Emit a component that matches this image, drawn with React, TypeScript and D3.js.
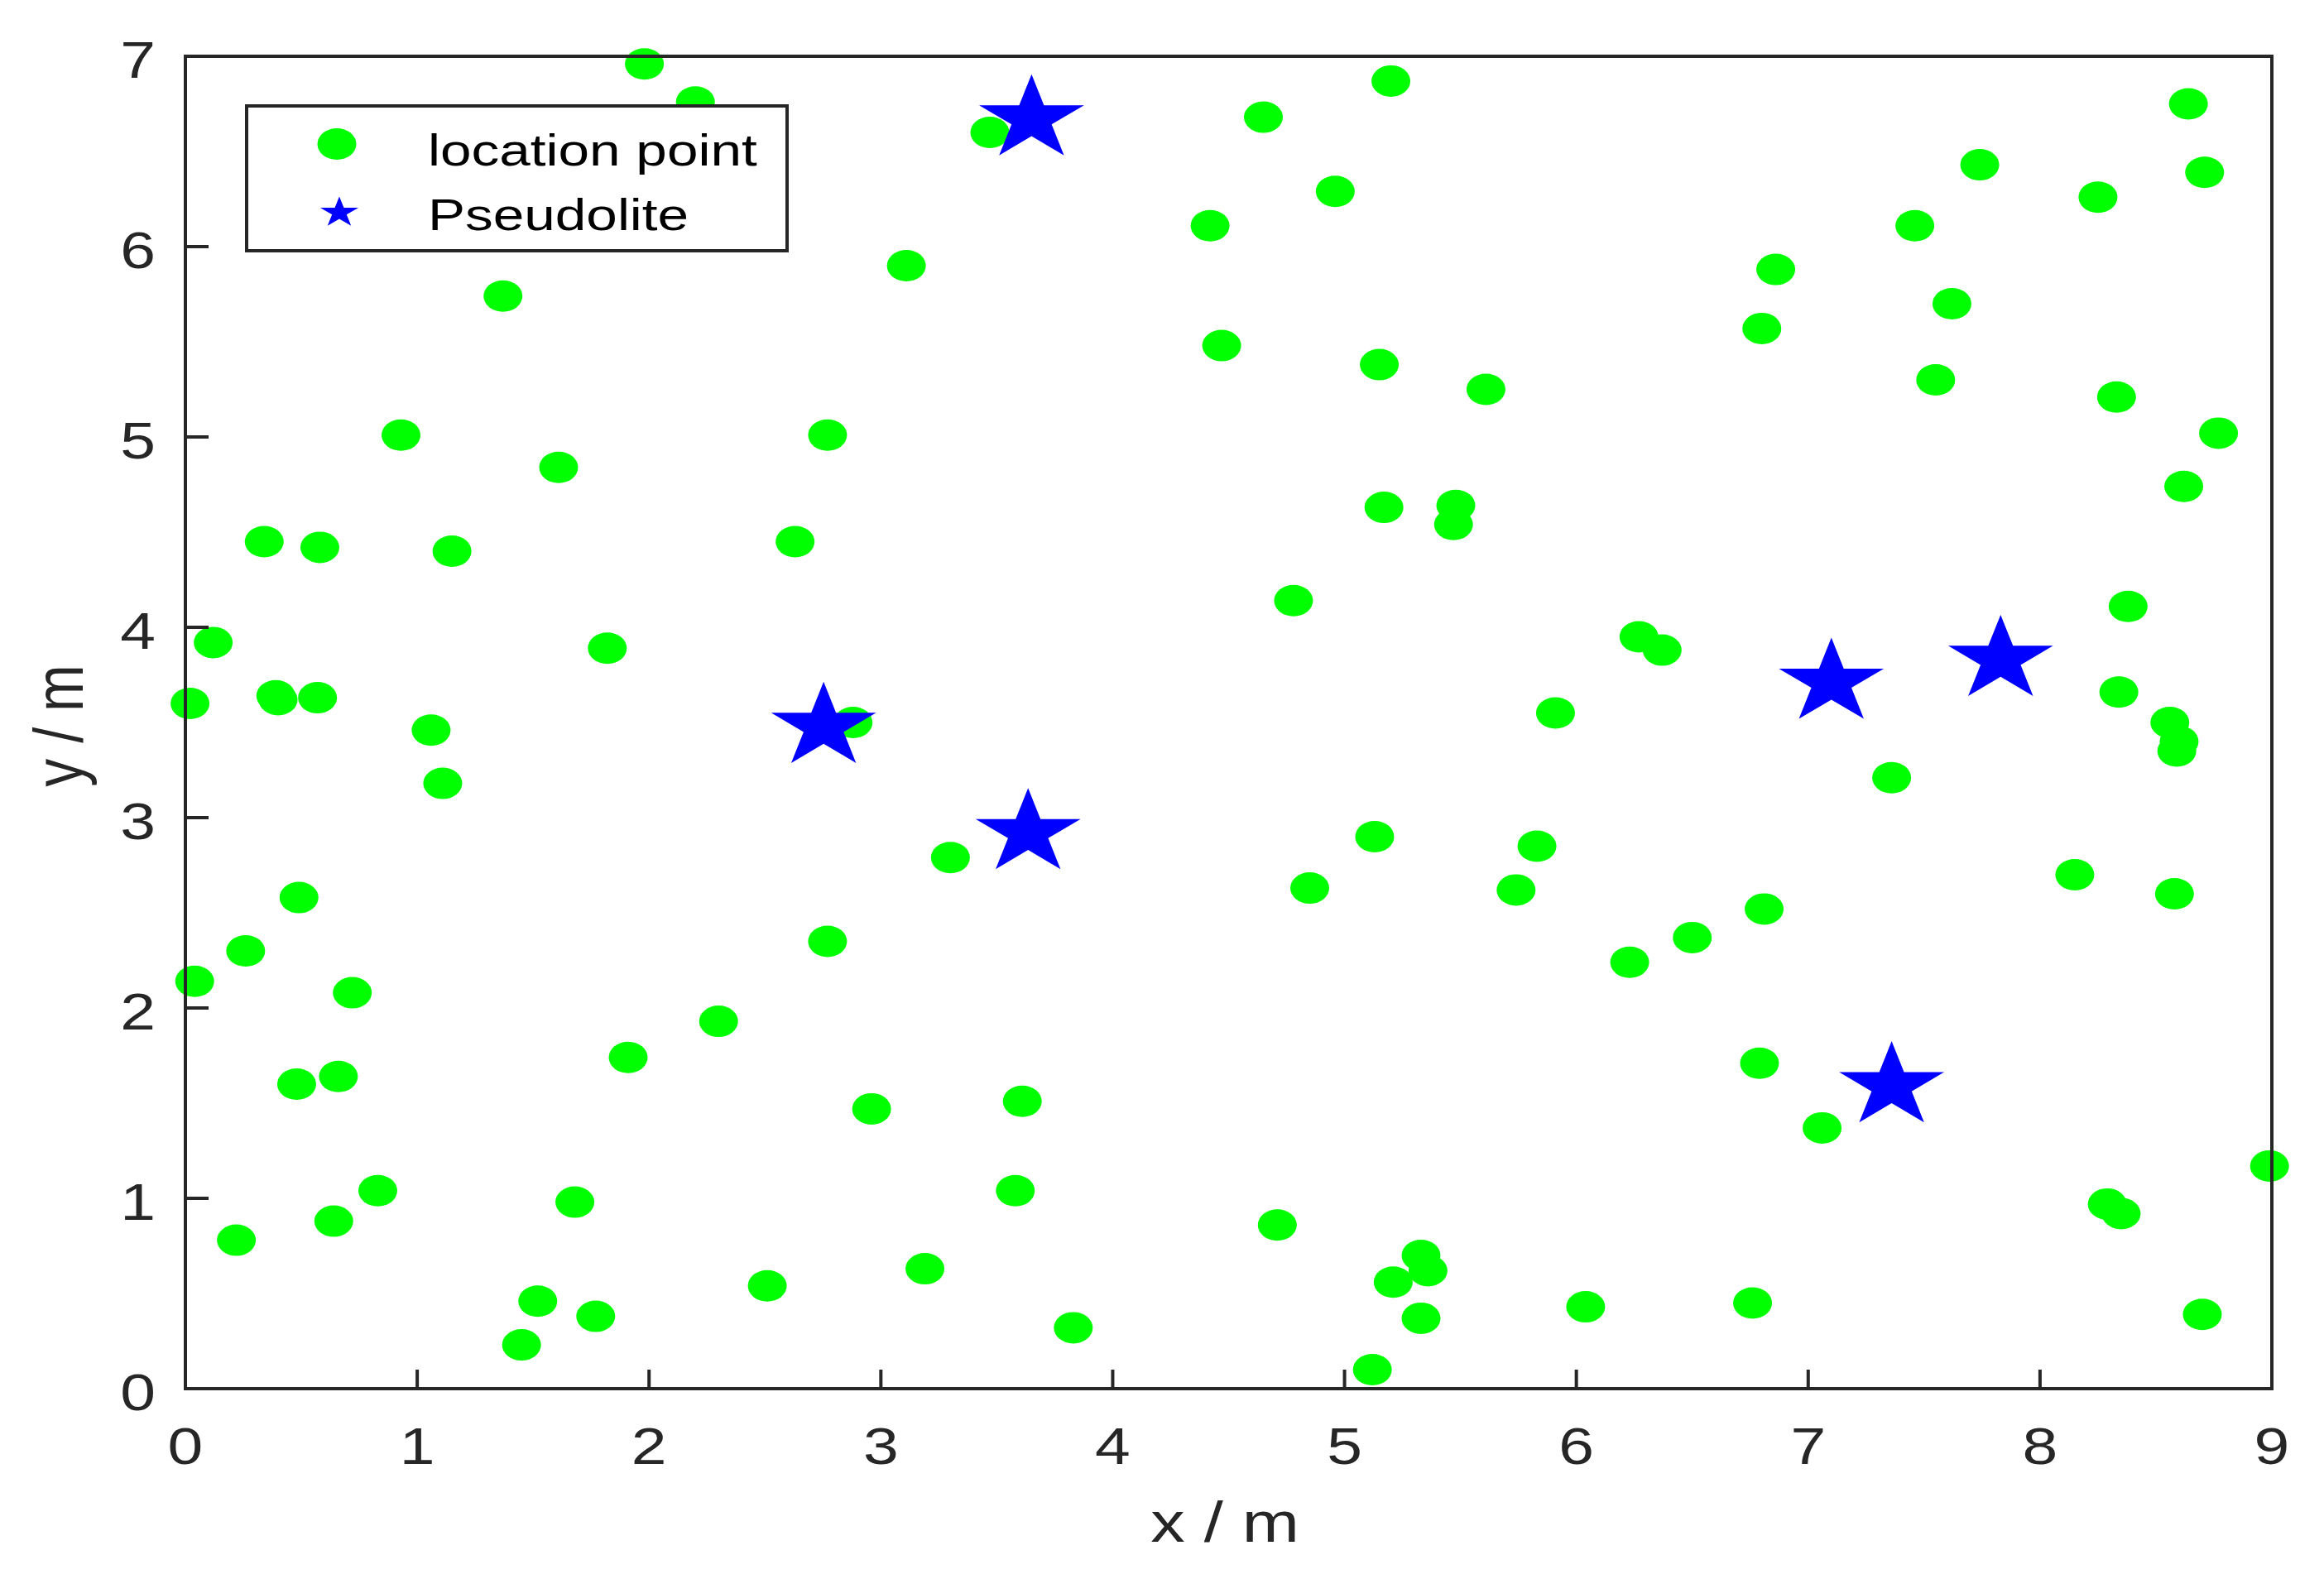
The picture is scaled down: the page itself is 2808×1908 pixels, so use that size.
import React from "react";
import * as d3 from "d3";

const locX = [1.98, 2.20, 3.47, 5.20, 4.65, 4.96, 4.42, 3.11, 1.37, 4.47, 5.15, 5.61, 0.93, 2.77, 1.61, 5.17, 5.48, 5.47, 0.34, 0.58, 1.15, 2.63, 4.78, 0.12, 1.82, 6.27, 6.37, 8.38, 0.39, 0.40, 0.57, 0.02, 1.06, 1.11, 2.88, 5.91, 8.34, 8.56, 8.60, 8.59, 7.36, 5.13, 5.83, 3.30, 4.85, 5.74, 0.49, 6.81, 8.15, 8.58, 2.77, 6.50, 0.26, 6.23, 0.04, 0.72, 2.30, 1.91, 0.66, 0.48, 3.61, 2.96, 6.79, 7.06, 8.99, 0.83, 3.58, 1.68, 8.29, 8.35, 0.22, 0.64, 4.71, 5.33, 5.36, 5.21, 3.19, 2.51, 1.52, 1.77, 1.45, 3.83, 5.33, 5.12, 6.04, 6.76, 8.70, 6.86, 6.80, 7.46, 7.74, 8.25, 8.64, 8.71, 7.62, 7.55, 8.33, 8.77, 8.62];
const locY = [6.96, 6.76, 6.60, 6.87, 6.68, 6.29, 6.11, 5.90, 5.74, 5.48, 5.38, 5.25, 5.01, 5.01, 4.84, 4.63, 4.64, 4.54, 4.45, 4.42, 4.40, 4.45, 4.14, 3.92, 3.89, 3.95, 3.88, 4.11, 3.64, 3.62, 3.63, 3.60, 3.46, 3.18, 3.50, 3.55, 3.66, 3.50, 3.40, 3.35, 3.21, 2.90, 2.85, 2.79, 2.63, 2.62, 2.58, 2.52, 2.70, 2.60, 2.35, 2.37, 2.30, 2.24, 2.14, 2.08, 1.93, 1.74, 1.64, 1.60, 1.51, 1.47, 1.71, 1.37, 1.17, 1.04, 1.04, 0.98, 0.97, 0.92, 0.78, 0.88, 0.86, 0.70, 0.62, 0.56, 0.63, 0.54, 0.46, 0.38, 0.23, 0.32, 0.37, 0.10, 0.43, 0.45, 0.39, 5.88, 5.57, 6.11, 6.43, 6.26, 6.75, 6.39, 5.70, 5.30, 5.21, 5.02, 4.74];

const starX = [3.65, 2.753, 3.635, 7.10, 7.83, 7.36];
const starY = [6.67, 3.478, 2.92, 3.71, 3.83, 1.59];

const xTicks = [0, 1, 2, 3, 4, 5, 6, 7, 8, 9];
const yTicks = [0, 1, 2, 3, 4, 5, 6, 7];

const legendLabels = ["location point", "Pseudolite"];

const W = 2808;
const H = 1908;
const L = 224, R = 2745, T = 68, B = 1678;
const SX = 1.22;
const INK = "#262626";
const FONT = "'Liberation Sans', Arial, Helvetica, sans-serif";

export default function App() {
  const x = d3.scaleLinear().domain([0, 9]).range([L, R]);
  const y = d3.scaleLinear().domain([0, 7]).range([B, T]);
  const bigStar = d3.symbol().type(d3.symbolStar).size(3300)()!;
  const smallStar = d3.symbol().type(d3.symbolStar).size(422)()!;

  return (
    <svg width={W} height={H} style={{ position: "absolute", left: 0, top: 0, background: "#fff" }} fontFamily={FONT}>
      <rect x={0} y={0} width={W} height={H} fill="#fff" />
      {locX.map((v, i) => (
        <ellipse key={"d" + i} cx={x(v)} cy={y(locY[i])} rx={23.5} ry={19} fill="#00ff00" />
      ))}
      {starX.map((v, i) => (
        <path key={"s" + i} d={bigStar} fill="#0000ff" transform={`translate(${x(v)},${y(starY[i])}) scale(1.23,1)`} />
      ))}
      <rect x={L} y={T} width={R - L} height={B - T} fill="none" stroke={INK} strokeWidth={4} />
      {xTicks.map((t) => (
        <g key={"xt" + t}>
          <line x1={x(t)} x2={x(t)} y1={B} y2={B - 23} stroke={INK} strokeWidth={4} />
          <text transform={`translate(${x(t)},1769) scale(${SX},1)`} textAnchor="middle" fontSize={63} fill={INK}>{t}</text>
        </g>
      ))}
      {yTicks.map((t) => (
        <g key={"yt" + t}>
          <line x1={L} x2={L + 28} y1={y(t)} y2={y(t)} stroke={INK} strokeWidth={4} />
          <text transform={`translate(188,${y(t) + 26}) scale(${SX},1)`} textAnchor="end" fontSize={63} fill={INK}>{t}</text>
        </g>
      ))}
      <text transform={`translate(1480,1863) scale(${SX},1)`} textAnchor="middle" fontSize={68} fill={INK}>x / m</text>
      <text transform={`translate(100,877) scale(${SX},1) rotate(-90)`} textAnchor="middle" fontSize={68} fill={INK}>y / m</text>
      <g>
        <rect x={298} y={128} width={653} height={175} fill="#fff" stroke={INK} strokeWidth={4} />
        <ellipse cx={407} cy={174} rx={23.5} ry={19} fill="#00ff00" />
        <path d={smallStar} fill="#0000ff" transform={`translate(410,257) scale(1.25,1)`} />
        <text transform={`translate(517,200) scale(1.25,1)`} fontSize={54} fill="#000">{legendLabels[0]}</text>
        <text transform={`translate(517,278) scale(1.25,1)`} fontSize={54} fill="#000">{legendLabels[1]}</text>
      </g>
    </svg>
  );
}
